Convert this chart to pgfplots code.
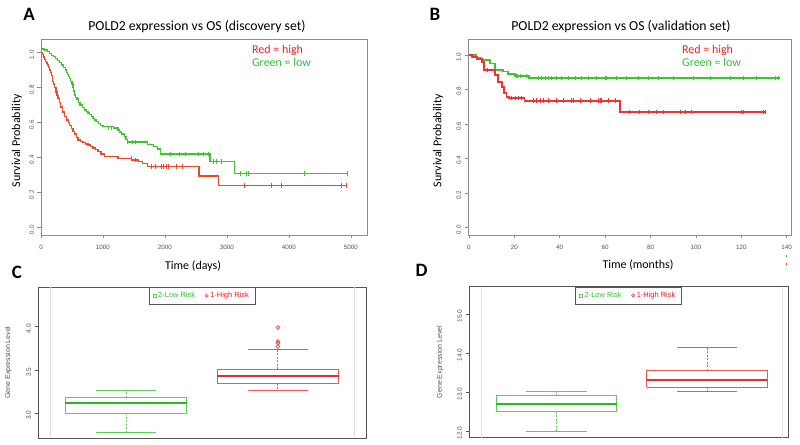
\documentclass[border=0pt]{standalone}
\usepackage{pgfplots}
\pgfplotsset{compat=1.18}
\usepackage{fontspec}
\setmainfont{Carlito}
\newfontfamily\arialf{Liberation Sans}
\definecolor{kmgreen}{RGB}{60,200,40}
\definecolor{kmreda}{RGB}{238,72,40}
\definecolor{kmredb}{RGB}{240,50,50}
\definecolor{txtred}{RGB}{230,30,40}
\definecolor{txtgreen}{RGB}{50,190,50}
\definecolor{bxgreen}{RGB}{95,205,85}
\definecolor{bxred}{RGB}{238,85,85}
\definecolor{mdgreen}{RGB}{40,185,30}
\definecolor{mdred}{RGB}{228,45,45}
\definecolor{frm}{RGB}{140,140,140}
\definecolor{bfrm}{RGB}{85,85,85}
\definecolor{ticktxt}{RGB}{80,80,80}
\pgfplotsset{
  kmaxis/.style={
    anchor=south west, scale only axis,
    axis line style={frm, line width=0.7bp},
    tick align=outside, xtick pos=bottom, ytick pos=left,
    major tick length=3.5bp,
    every tick/.style={frm, line width=0.6bp},
    scaled ticks=false,
    xticklabel style={font=\arialf\fontsize{6.3}{7}\selectfont, text=ticktxt, yshift=-3bp, /pgf/number format/1000 sep={}},
    yticklabel style={font=\arialf\fontsize{6.3}{7}\selectfont, text=ticktxt, rotate=90, anchor=south, xshift=-2bp,
      /pgf/number format/.cd, fixed, fixed zerofill, precision=1},
    /pgf/number format/assume math mode=true,
    ytick={0,0.2,0.4,0.6,0.8,1},
  },
  kmline/.style={const plot, line width=1.3bp},
  kmcens/.style={only marks, mark=|, mark size=2.2bp, mark options={line width=0.7bp}},
  bxaxis/.style={
    anchor=south west, scale only axis,
    axis line style={bfrm, line width=0.7bp},
    tick align=outside, ytick pos=left, xtick=\empty,
    major tick length=3.5bp,
    every tick/.style={bfrm, line width=0.6bp},
    scaled ticks=false,
    yticklabel style={font=\arialf\fontsize{6.5}{7}\selectfont, text=ticktxt, rotate=90, anchor=south, xshift=-2bp,
      /pgf/number format/.cd, fixed, fixed zerofill, precision=1},
    /pgf/number format/assume math mode=true,
    legend style={at={(0.5,1)}, anchor=north, legend columns=2, draw=bfrm, line width=0.7bp,
      font=\arialf\fontsize{7.5}{8}\selectfont, inner xsep=4bp, inner ysep=3bp,
      /tikz/every even column/.append style={column sep=8bp}},
    legend cell align=left,
  },
  bxline/.style={line width=0.9bp, forget plot},
  bxdash/.style={line width=1bp, dash pattern=on 2bp off 1.5bp, forget plot},
  bxmed/.style={line width=2bp, forget plot},
}
\begin{document}
\begin{tikzpicture}
\useasboundingbox (0,0) rectangle (800bp,445bp);
% ---------------- Panel A ----------------
\begin{axis}[kmaxis, at={(41bp,210bp)}, width=326bp, height=196bp,
  xmin=0, xmax=5260, ymin=-0.042, ymax=1.078,
  xtick={0,1000,2000,3000,4000,5000}]
\addplot[kmline, color=kmgreen] coordinates {
(0,1.025)(30,1.02)(60,1.015)(100,1.005)(140,0.995)(170,0.985)(200,0.977)(235,0.967)(270,0.955)(300,0.943)(330,0.93)(360,0.915)(390,0.90)(410,0.888)(430,0.875)(446,0.865)(462,0.854)(480,0.835)(500,0.82)(515,0.80)(530,0.78)(543,0.758)(560,0.745)(580,0.735)(605,0.715)(630,0.70)(665,0.688)(704,0.673)(730,0.665)(760,0.655)(785,0.645)(810,0.635)(840,0.625)(866,0.615)(900,0.605)(930,0.595)(965,0.585)(1000,0.578)(1170,0.57)(1242,0.558)(1270,0.547)(1300,0.535)(1350,0.52)(1370,0.505)(1390,0.49)(1715,0.477)(1810,0.465)(1880,0.45)(1929,0.421)(2726,0.377)(3118,0.31)(4940,0.31)};
\addplot[kmcens, color=kmgreen] coordinates {
(1080,0.57)(1140,0.57)(1400,0.49)(1470,0.49)(1530,0.49)(2081,0.421)(2231,0.421)(2323,0.421)(2537,0.421)(2618,0.421)(2699,0.421)(2780,0.377)(2833,0.377)(2914,0.377)(3210,0.31)(3318,0.31)(3344,0.31)(4242,0.31)(4940,0.31)};
\addplot[kmline, color=kmreda] coordinates {
(0,1.0)(20,0.99)(40,0.975)(55,0.96)(70,0.95)(85,0.94)(100,0.93)(120,0.915)(140,0.90)(155,0.885)(166,0.87)(180,0.85)(190,0.835)(200,0.82)(220,0.8)(240,0.775)(257,0.757)(274,0.739)(297,0.715)(320,0.69)(350,0.66)(382,0.634)(410,0.615)(440,0.60)(465,0.585)(489,0.568)(515,0.55)(540,0.535)(570,0.515)(597,0.501)(640,0.493)(680,0.485)(720,0.478)(758,0.473)(800,0.463)(840,0.455)(880,0.445)(919,0.434)(970,0.42)(1027,0.406)(1242,0.397)(1457,0.387)(1565,0.377)(1640,0.365)(1715,0.349)(2548,0.295)(2860,0.24)(4940,0.24)};
\addplot[kmcens, color=kmreda] coordinates {
(1450,0.397)(1520,0.387)(1785,0.349)(1839,0.349)(1947,0.349)(1973,0.349)(2027,0.349)(2054,0.349)(2189,0.349)(2285,0.349)(3274,0.24)(3721,0.24)(3882,0.24)(4850,0.24)(4919,0.24)};
\end{axis}
% ---------------- Panel B ----------------
\begin{axis}[kmaxis, at={(468bp,210bp)}, width=323bp, height=196bp,
  xmin=-0.4, xmax=141.9, ymin=-0.042, ymax=1.092,
  xtick={0,20,40,60,80,100,120,140}]
\addplot[kmline, color=kmgreen, line width=1.6bp] coordinates {
(0,1.0)(3.4,0.986)(5.6,0.970)(9.3,0.951)(11.5,0.913)(15.1,0.903)(17.3,0.889)(20.3,0.878)(26.6,0.865)(137,0.865)};
\addplot[kmcens, color=kmgreen] coordinates {
(20.8,0.878)(21.5,0.878)(22.5,0.878)(25.1,0.878)(30.5,0.865)(32,0.865)(33.5,0.865)(34.9,0.865)(36.4,0.865)(38.6,0.865)(40.8,0.865)(43.8,0.865)(46.7,0.865)(49.6,0.865)(52.6,0.865)(56.2,0.865)(59.9,0.865)(60.6,0.865)(65.1,0.865)(69.5,0.865)(74.6,0.865)(79,0.865)(83.4,0.865)(90,0.865)(98.8,0.865)(106.2,0.865)(115,0.865)(120.8,0.865)(126.7,0.865)(134.8,0.865)(136.3,0.865)};
\addplot[kmline, color=kmredb, line width=1.8bp] coordinates {
(0,1.0)(1.5,0.99)(3.4,0.975)(5.6,0.961)(6.5,0.913)(11.5,0.884)(12.9,0.845)(14.4,0.812)(15.4,0.781)(16.6,0.758)(17.8,0.749)(24.5,0.735)(66.6,0.671)(131,0.671)};
\addplot[kmcens, color=kmredb] coordinates {
(8,0.913)(18.8,0.749)(20.3,0.749)(21.8,0.749)(23.3,0.749)(28.3,0.735)(29.8,0.735)(31.3,0.735)(32.7,0.735)(34.9,0.735)(38.6,0.735)(41.5,0.735)(45.2,0.735)(45.9,0.735)(48.9,0.735)(53.3,0.735)(57,0.735)(57.7,0.735)(58.4,0.735)(61.4,0.735)(64.3,0.735)(70.9,0.671)(75.3,0.671)(79,0.671)(82.7,0.671)(85.6,0.671)(93,0.671)(95.2,0.671)(98.1,0.671)(120.1,0.671)(120.8,0.671)(129.6,0.671)(130.4,0.671)};
\end{axis}
% ---------------- Panel C ----------------
\begin{axis}[bxaxis, at={(38bp,7bp)}, width=328bp, height=151bp,
  xmin=0.42, xmax=2.58, ymin=2.715, ymax=4.458, ytick={3,3.5,4}]
\addplot[gray!25, line width=0.6bp, forget plot] coordinates {(0.5,2.715)(0.5,4.458)};
\addplot[gray!25, line width=0.6bp, forget plot] coordinates {(2.5,2.715)(2.5,4.458)};
% low risk
\addplot[bxline, bxgreen] coordinates {(0.6,3.0)(1.4,3.0)(1.4,3.18)(0.6,3.18)(0.6,3.0)};
\addplot[bxmed, mdgreen] coordinates {(0.6,3.12)(1.4,3.12)};
\addplot[bxdash, bxgreen] coordinates {(1,3.18)(1,3.26)};
\addplot[bxdash, bxgreen] coordinates {(1,3.0)(1,2.78)};
\addplot[bxline, bxgreen] coordinates {(0.8,3.26)(1.2,3.26)};
\addplot[bxline, bxgreen] coordinates {(0.8,2.78)(1.2,2.78)};
% high risk
\addplot[bxline, bxred] coordinates {(1.6,3.34)(2.4,3.34)(2.4,3.507)(1.6,3.507)(1.6,3.34)};
\addplot[bxmed, mdred] coordinates {(1.6,3.427)(2.4,3.427)};
\addplot[bxdash, bxred] coordinates {(2,3.507)(2,3.742)};
\addplot[bxdash, bxred] coordinates {(2,3.34)(2,3.265)};
\addplot[bxline, bxred] coordinates {(1.8,3.742)(2.2,3.742)};
\addplot[bxline, bxred] coordinates {(1.8,3.265)(2.2,3.265)};
\addplot[only marks, mark=o, mark size=1.9bp, bxred, mark options={line width=0.8bp}, forget plot] coordinates {(2,3.99)(2,3.83)(2,3.81)(2,3.77)};
\addlegendimage{only marks, mark=square, mark size=1.5bp, bxgreen, mark options={line width=0.7bp}}
\addlegendentry{\textcolor{txtgreen}{2-Low Risk}}
\addlegendimage{only marks, mark=o, mark size=1.6bp, bxred, mark options={line width=0.7bp}}
\addlegendentry{\textcolor{txtred}{1-High Risk}}
\end{axis}
% ---------------- Panel D ----------------
\begin{axis}[bxaxis, at={(469bp,7.3bp)}, width=319bp, height=151bp,
  xmin=0.419, xmax=2.538, ymin=11.83, ymax=15.70, ytick={12,13,14,15}]
\addplot[gray!25, line width=0.6bp, forget plot] coordinates {(0.503,11.83)(0.503,15.70)};
\addplot[gray!25, line width=0.6bp, forget plot] coordinates {(2.5,11.83)(2.5,15.70)};
% low risk
\addplot[bxline, bxgreen] coordinates {(0.6,12.50)(1.4,12.50)(1.4,12.91)(0.6,12.91)(0.6,12.50)};
\addplot[bxmed, mdgreen] coordinates {(0.6,12.69)(1.4,12.69)};
\addplot[bxdash, bxgreen] coordinates {(1,12.91)(1,13.01)};
\addplot[bxdash, bxgreen] coordinates {(1,12.50)(1,11.99)};
\addplot[bxline, bxgreen] coordinates {(0.8,13.01)(1.2,13.01)};
\addplot[bxline, bxgreen] coordinates {(0.8,11.99)(1.2,11.99)};
% high risk
\addplot[bxline, bxred] coordinates {(1.6,13.13)(2.4,13.13)(2.4,13.55)(1.6,13.55)(1.6,13.13)};
\addplot[bxmed, mdred] coordinates {(1.6,13.32)(2.4,13.32)};
\addplot[bxdash, bxred] coordinates {(2,13.55)(2,14.15)};
\addplot[bxdash, bxred] coordinates {(2,13.13)(2,13.02)};
\addplot[bxline, bxred] coordinates {(1.8,14.15)(2.2,14.15)};
\addplot[bxline, bxred] coordinates {(1.8,13.02)(2.2,13.02)};
\addlegendimage{only marks, mark=square, mark size=1.5bp, bxgreen, mark options={line width=0.7bp}}
\addlegendentry{\textcolor{txtgreen}{2-Low Risk}}
\addlegendimage{only marks, mark=o, mark size=1.6bp, bxred, mark options={line width=0.7bp}}
\addlegendentry{\textcolor{txtred}{1-High Risk}}
\end{axis}
% ---------------- texts ----------------
\node[font=\fontsize{19}{20}\selectfont\bfseries] at (29bp,431bp) {A};
\node[font=\fontsize{19}{20}\selectfont\bfseries] at (435bp,431bp) {B};
\node[font=\fontsize{19}{20}\selectfont\bfseries] at (17bp,172.3bp) {C};
\node[font=\fontsize{19}{20}\selectfont\bfseries] at (421.7bp,174.3bp) {D};
\node[font=\fontsize{13.8}{15}\selectfont] at (197bp,418.3bp) {POLD2 expression vs OS (discovery set)};
\node[font=\fontsize{13.8}{15}\selectfont] at (621bp,418bp) {POLD2 expression vs OS (validation set)};
\node[font=\fontsize{12}{13}\selectfont] at (193bp,179bp) {Time (days)};
\node[font=\fontsize{12}{13}\selectfont] at (638bp,180bp) {Time (months)};
\node[font=\fontsize{12}{13}\selectfont, rotate=90] at (17bp,304.3bp) {Survival Probability};
\node[font=\fontsize{12}{13}\selectfont, rotate=90] at (438.3bp,304.3bp) {Survival Probability};
\node[font=\arialf\fontsize{7}{8}\selectfont, rotate=90, text=ticktxt] at (8.3bp,82.5bp) {Gene Expression Level};
\node[font=\arialf\fontsize{7}{8}\selectfont, rotate=90, text=ticktxt] at (440bp,83bp) {Gene Expression Level};
\node[font=\fontsize{12}{13}\selectfont, text=txtred, anchor=west, inner sep=0pt] at (252bp,395bp) {Red = high};
\node[font=\fontsize{12}{13}\selectfont, text=txtgreen, anchor=west, inner sep=0pt] at (252bp,383bp) {Green = low};
\node[font=\fontsize{12}{13}\selectfont, text=txtred, anchor=west, inner sep=0pt] at (682bp,394.5bp) {Red = high};
\node[font=\fontsize{12}{13}\selectfont, text=txtgreen, anchor=west, inner sep=0pt] at (682bp,382.5bp) {Green = low};
\draw[kmgreen, line width=0.6bp] (786.7bp,190bp) -- (786.7bp,187.5bp);
\draw[txtred, line width=0.6bp] (786.7bp,182bp) -- (786.7bp,179.5bp);
\end{tikzpicture}
\end{document}
